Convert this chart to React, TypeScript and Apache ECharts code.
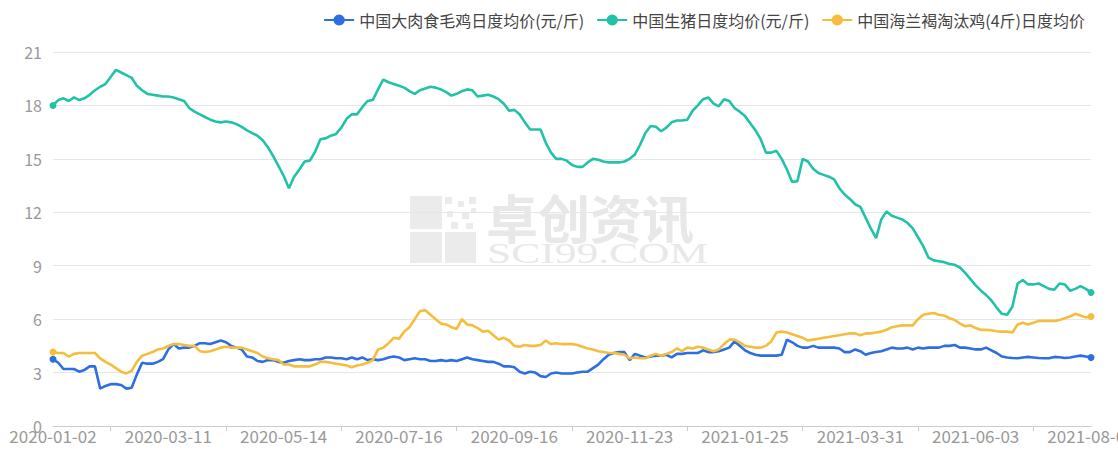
import React, { useEffect, useRef } from 'react';
import * as echarts from 'echarts';

// x-axis tick labels (one every STEP data points)
const TICK_LABELS = [
  '2020-01-02', '2020-03-11', '2020-05-14', '2020-07-16', '2020-09-16',
  '2020-11-23', '2021-01-25', '2021-03-31', '2021-06-03', '2021-08-05',
];
const STEP = 22;

const SERIES_NAMES = [
  '中国大肉食毛鸡日度均价(元/斤)',
  '中国生猪日度均价(元/斤)',
  '中国海兰褐淘汰鸡(4斤)日度均价',
];
const COLORS = ['#2d6ee3', '#22c2a8', '#f4bd3c'];

const Y_MIN = 0;
const Y_MAX = 21;
const Y_STEP = 3;

const chickenPrice = [
  3.75, 3.55, 3.2, 3.2, 3.2, 3.05, 3.15, 3.35, 3.35, 2.1,
  2.25, 2.35, 2.35, 2.3, 2.1, 2.15, 2.9, 3.55, 3.5, 3.5,
  3.6, 3.75, 4.3, 4.6, 4.35, 4.4, 4.4, 4.5, 4.65, 4.65,
  4.6, 4.7, 4.8, 4.7, 4.5, 4.4, 4.3, 3.9, 3.85, 3.65,
  3.6, 3.7, 3.7, 3.6, 3.55, 3.65, 3.7, 3.75, 3.7, 3.7,
  3.75, 3.75, 3.85, 3.85, 3.8, 3.8, 3.75, 3.85, 3.75, 3.85,
  3.7, 3.75, 3.7, 3.75, 3.85, 3.9, 3.85, 3.7, 3.75, 3.8,
  3.75, 3.75, 3.65, 3.65, 3.7, 3.65, 3.7, 3.65, 3.75, 3.85,
  3.75, 3.7, 3.65, 3.6, 3.6, 3.5, 3.35, 3.35, 3.3, 3.05,
  2.95, 3.05, 3.0, 2.8, 2.75, 2.95, 3.0, 2.95, 2.95, 2.95,
  3.0, 3.05, 3.05, 3.25, 3.45, 3.75, 4.0, 4.1, 4.15, 4.15,
  3.7, 4.05, 3.95, 3.85, 3.9, 3.95, 3.95, 4.0, 3.85, 4.05,
  4.05, 4.1, 4.1, 4.1, 4.25, 4.15, 4.15, 4.2, 4.3, 4.4,
  4.75, 4.5, 4.25, 4.1, 4.0, 3.95, 3.95, 3.95, 3.95, 4.0,
  4.85, 4.7, 4.5, 4.4, 4.4, 4.5, 4.4, 4.4, 4.4, 4.4,
  4.35, 4.15, 4.15, 4.3, 4.2, 4.0, 4.1, 4.15, 4.2, 4.3,
  4.4, 4.35, 4.35, 4.4, 4.3, 4.4, 4.35, 4.4, 4.4, 4.4,
  4.5, 4.5, 4.55, 4.4, 4.4, 4.35, 4.3, 4.3, 4.4, 4.25,
  4.1, 3.9, 3.85, 3.82, 3.8, 3.85, 3.88, 3.85, 3.82, 3.8,
  3.8, 3.88, 3.86, 3.82, 3.85, 3.9, 3.95, 3.9, 3.85,
];

const hogPrice = [
  18.0, 18.3, 18.4, 18.25, 18.45, 18.3, 18.4, 18.6, 18.85, 19.05,
  19.2, 19.6, 20.0, 19.85, 19.7, 19.55, 19.1, 18.85, 18.65, 18.6,
  18.55, 18.5, 18.5, 18.45, 18.35, 18.25, 17.85, 17.65, 17.5, 17.35,
  17.2, 17.1, 17.05, 17.1, 17.05, 16.95, 16.8, 16.6, 16.45, 16.3,
  16.05, 15.65, 15.15, 14.6, 14.05, 13.35, 14.0, 14.4, 14.85, 14.9,
  15.4, 16.1, 16.15, 16.3, 16.4, 16.75, 17.25, 17.5, 17.5, 17.9,
  18.25, 18.3, 18.9, 19.45, 19.3, 19.2, 19.1, 19.0, 18.8, 18.65,
  18.85, 18.95, 19.05, 19.0, 18.9, 18.75, 18.55, 18.65, 18.8, 18.9,
  18.85, 18.5, 18.55, 18.6, 18.5, 18.35, 18.1, 17.7, 17.75, 17.5,
  17.05, 16.65, 16.65, 16.65, 15.9, 15.35, 15.0, 15.0, 14.9, 14.65,
  14.55, 14.55, 14.8, 15.0, 14.95, 14.85, 14.8, 14.8, 14.8, 14.85,
  15.0, 15.25, 15.8, 16.45, 16.85, 16.8, 16.55, 16.75, 17.05, 17.15,
  17.15, 17.2, 17.7, 18.0, 18.35, 18.45, 18.1, 17.95, 18.35, 18.25,
  17.85, 17.65, 17.4, 17.0, 16.6, 16.1, 15.35, 15.35, 15.45, 15.0,
  14.4, 13.7, 13.75, 15.0, 14.85, 14.45, 14.2, 14.1, 14.0, 13.85,
  13.35, 13.0, 12.75, 12.45, 12.3, 11.7, 11.1, 10.55, 11.6, 12.05,
  11.8, 11.7, 11.6, 11.4, 11.1, 10.6, 10.1, 9.45, 9.3, 9.25,
  9.2, 9.1, 9.05, 8.9, 8.6, 8.25, 7.9, 7.6, 7.35, 7.05,
  6.65, 6.3, 6.25, 6.7, 8.0, 8.2, 7.95, 7.95, 8.0, 7.85,
  7.7, 7.65, 8.0, 7.95, 7.6, 7.7, 7.85, 7.7, 7.5,
];

const henPrice = [
  4.15, 4.1, 4.1, 3.9, 4.05, 4.1, 4.1, 4.1, 4.1, 3.8,
  3.6, 3.45, 3.25, 3.05, 2.95, 3.1, 3.6, 3.95, 4.05, 4.15,
  4.3, 4.35, 4.5, 4.6, 4.6, 4.55, 4.5, 4.5, 4.2, 4.15,
  4.2, 4.3, 4.4, 4.45, 4.4, 4.4, 4.4, 4.3, 4.2, 4.1,
  3.9, 3.8, 3.75, 3.7, 3.45, 3.45, 3.35, 3.35, 3.35, 3.35,
  3.45, 3.6, 3.6, 3.55, 3.5, 3.45, 3.4, 3.3, 3.4, 3.45,
  3.55, 3.7, 4.3, 4.4, 4.65, 4.95, 4.9, 5.3, 5.55, 6.0,
  6.45, 6.5, 6.25, 6.0, 5.75, 5.7, 5.55, 5.45, 6.0, 5.7,
  5.65, 5.5, 5.3, 5.35, 5.1, 4.85, 4.95, 4.8, 4.5, 4.45,
  4.55, 4.5, 4.5, 4.55, 4.8, 4.6, 4.65, 4.6, 4.6, 4.6,
  4.55, 4.45, 4.35, 4.3, 4.2, 4.15, 4.1, 4.1, 4.05, 4.0,
  3.8, 3.85, 3.8, 3.8, 3.95, 4.05, 3.95, 4.05, 4.15, 4.35,
  4.2, 4.4, 4.35, 4.45, 4.4, 4.3, 4.2, 4.3, 4.6, 4.85,
  4.85, 4.7, 4.5, 4.45, 4.4, 4.4, 4.5, 4.75, 5.25, 5.3,
  5.25, 5.15, 5.05, 4.95, 4.8, 4.85, 4.9, 4.95, 5.0, 5.05,
  5.1, 5.15, 5.2, 5.2, 5.1, 5.2, 5.2, 5.25, 5.3, 5.4,
  5.55, 5.6, 5.65, 5.65, 5.65, 6.0, 6.25, 6.3, 6.35, 6.25,
  6.2, 6.05, 5.95, 5.75, 5.6, 5.65, 5.5, 5.4, 5.4, 5.38,
  5.32, 5.3, 5.3, 5.25, 5.7, 5.8, 5.7, 5.8, 5.9, 5.9,
  5.9, 5.9, 5.95, 6.05, 6.15, 6.3, 6.2, 6.1, 6.15,
];

function fmt(d: Date): string {
  const y = d.getUTCFullYear();
  const m = String(d.getUTCMonth() + 1).padStart(2, '0');
  const day = String(d.getUTCDate()).padStart(2, '0');
  return `${y}-${m}-${day}`;
}

// one category per data point; tick label dates sit every STEP points
function buildCategories(): string[] {
  const out: string[] = [];
  for (let j = 0; j < TICK_LABELS.length - 1; j++) {
    const a = Date.parse(TICK_LABELS[j] + 'T00:00:00Z');
    const b = Date.parse(TICK_LABELS[j + 1] + 'T00:00:00Z');
    for (let k = 0; k < STEP; k++) {
      out.push(fmt(new Date(a + Math.round(((b - a) / 86400000) * k / STEP) * 86400000)));
    }
  }
  out.push(TICK_LABELS[TICK_LABELS.length - 1]);
  return out;
}

const FONT = '"Noto Sans CJK SC", "Noto Sans", sans-serif';

export default function App() {
  const ref = useRef<HTMLDivElement>(null);

  useEffect(() => {
    if (!ref.current) return;
    const chart = echarts.init(ref.current, null, { renderer: 'svg' });
    const categories = buildCategories();
    const last = categories.length - 1;
    const mk = (name: string, data: number[], color: string) => ({
      name,
      type: 'line',
      data,
      showSymbol: true,
      showAllSymbol: true,
      symbol: 'circle',
      symbolSize: (_v: any, p: any) => (p.dataIndex === 0 || p.dataIndex === last ? 7 : 0),
      itemStyle: { color },
      lineStyle: { color, width: 2.6 },
      emphasis: { disabled: true },
      z: 3,
    });

    const wm = '#ebebeb';
    chart.setOption({
      animation: false,
      backgroundColor: '#ffffff',
      textStyle: { fontFamily: FONT },
      legend: {
        top: 7,
        right: 28,
        itemWidth: 30,
        itemHeight: 14,
        itemGap: 12,
        textStyle: { fontSize: 16, color: '#444', fontFamily: FONT },
        data: SERIES_NAMES,
      },
      grid: {
        left: 53,
        right: 27,
        top: 52,
        bottom: 25,
        containLabel: false,
        outerBoundsMode: 'none',
      },
      xAxis: {
        type: 'category',
        boundaryGap: false,
        data: categories,
        axisLine: { lineStyle: { color: '#cccccc', width: 1 } },
        axisTick: {
          show: true,
          interval: (index: number) => index % STEP === STEP / 2,
          length: 5,
          lineStyle: { color: '#cccccc' },
        },
        axisLabel: {
          interval: STEP - 1,
          fontSize: 17,
          color: '#999999',
          margin: 1,
          fontFamily: FONT,
        },
        splitLine: { show: false },
      },
      yAxis: {
        type: 'value',
        min: Y_MIN,
        max: Y_MAX,
        interval: Y_STEP,
        axisLine: { show: false },
        axisTick: { show: false },
        axisLabel: { fontSize: 16, color: '#999999', margin: 11, fontFamily: FONT },
        splitLine: { lineStyle: { color: '#e6e6e6', width: 1 } },
      },
      graphic: [
        {
          type: 'group',
          z: 0,
          silent: true,
          children: [
            { type: 'rect', shape: { x: 410, y: 196, width: 32, height: 33 }, style: { fill: wm } },
            { type: 'rect', shape: { x: 410, y: 232, width: 32, height: 31 }, style: { fill: wm } },
            { type: 'rect', shape: { x: 445, y: 232, width: 31, height: 31 }, style: { fill: wm } },
            { type: 'rect', shape: { x: 445, y: 197, width: 7, height: 7 }, style: { fill: wm } },
            { type: 'rect', shape: { x: 458, y: 201, width: 6, height: 6 }, style: { fill: wm } },
            { type: 'rect', shape: { x: 469, y: 197, width: 7, height: 7 }, style: { fill: wm } },
            { type: 'rect', shape: { x: 447, y: 211, width: 6, height: 6 }, style: { fill: wm } },
            { type: 'rect', shape: { x: 462, y: 212, width: 7, height: 7 }, style: { fill: wm } },
            { type: 'rect', shape: { x: 471, y: 208, width: 5, height: 5 }, style: { fill: wm } },
            { type: 'rect', shape: { x: 451, y: 222, width: 7, height: 7 }, style: { fill: wm } },
            { type: 'rect', shape: { x: 466, y: 223, width: 7, height: 6 }, style: { fill: wm } },
            {
              type: 'text',
              x: 486,
              y: 190,
              style: {
                text: '卓创资讯',
                fontSize: 52,
                fontWeight: 'bold',
                fontFamily: '"Noto Sans CJK SC", sans-serif',
                fill: '#e8e8e8',
              },
            },
            {
              type: 'text',
              x: 487,
              y: 238,
              scaleX: 1.45,
              style: {
                text: 'SCI99.COM',
                fontSize: 30,
                fontFamily: '"Liberation Serif", "DejaVu Serif", serif',
                fill: '#e8e8e8',
              },
            },
          ],
        },
      ],
      series: [
        mk(SERIES_NAMES[0], chickenPrice, COLORS[0]),
        mk(SERIES_NAMES[1], hogPrice, COLORS[1]),
        mk(SERIES_NAMES[2], henPrice, COLORS[2]),
      ],
    });
    return () => chart.dispose();
  }, []);

  return (
    <div
      ref={ref}
      style={{ position: 'fixed', left: 0, top: 0, width: 1118, height: 451, background: '#fff' }}
    />
  );
}
